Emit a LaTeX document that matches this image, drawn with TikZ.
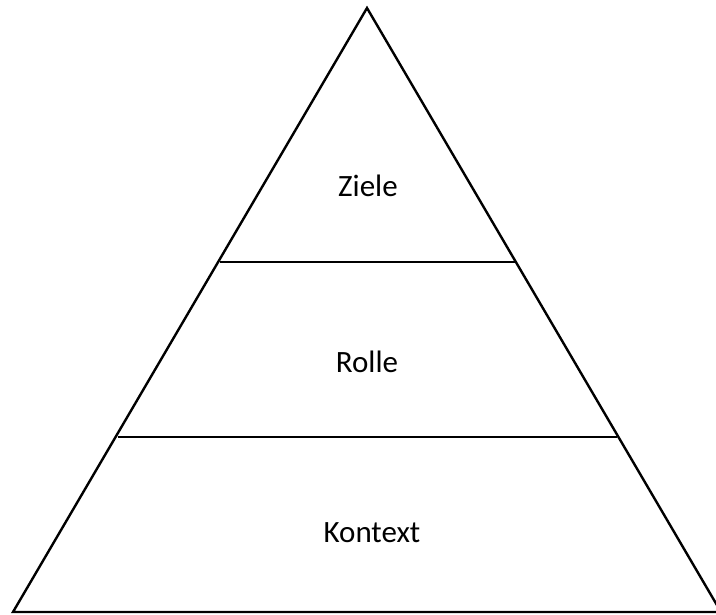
\documentclass[tikz,border=0pt]{standalone}
\usepackage{fontspec}
\setmainfont{Carlito}
\begin{document}
\begin{tikzpicture}[x=1pt,y=-1pt,
  edge/.style={line width=2.4pt, line join=miter, black},
  lbl/.style={anchor=base, font=\fontsize{31}{36}\selectfont, inner sep=0pt}]
\useasboundingbox (0,0) rectangle (716,615);
\clip (0,0) rectangle (716,615);
\coordinate (apex) at (367,8);
\coordinate (bl) at (13,612);
\coordinate (br) at (721,612);
\coordinate (l1) at (220,262);
\coordinate (r1) at (516,262);
\coordinate (l2) at (118,437);
\coordinate (r2) at (617,437);
\draw[edge] (apex) -- (bl) -- (br) -- cycle;
\draw[edge] (l1) -- (r1);
\draw[edge] (l2) -- (r2);
\node[lbl] (ziele) at (368,197) {Ziele};
\node[lbl] (rolle) at (367,372) {Rolle};
\node[lbl] (kontext) at (372,542) {Kontext};
\end{tikzpicture}
\end{document}
